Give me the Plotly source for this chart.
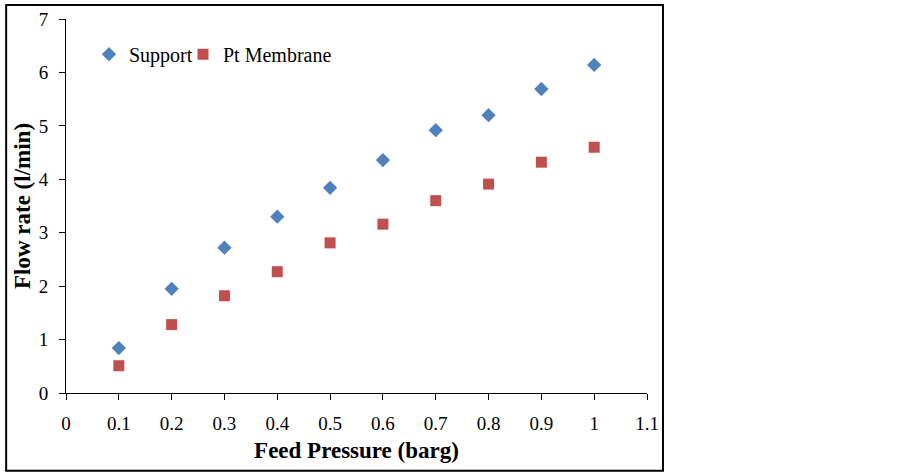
import plotly.graph_objects as go

pressure = [0.1, 0.2, 0.3, 0.4, 0.5, 0.6, 0.7, 0.8, 0.9, 1.0]
support = [0.84, 1.95, 2.72, 3.30, 3.84, 4.36, 4.92, 5.20, 5.69, 6.14]
pt_membrane = [0.51, 1.28, 1.82, 2.27, 2.81, 3.16, 3.60, 3.91, 4.32, 4.60]
x_ticks = [0, 0.1, 0.2, 0.3, 0.4, 0.5, 0.6, 0.7, 0.8, 0.9, 1.0, 1.1]
x_tick_labels = ["0", "0.1", "0.2", "0.3", "0.4", "0.5", "0.6", "0.7", "0.8", "0.9", "1", "1.1"]
y_ticks = [0, 1, 2, 3, 4, 5, 6, 7]

FONT = "Liberation Serif"

fig = go.Figure()
fig.add_trace(go.Scatter(x=pressure, y=support, mode="markers", name="Support",
                         marker=dict(symbol="diamond", size=11, color="#4F81BD"),
                         legend="legend"))
fig.add_trace(go.Scatter(x=pressure, y=pt_membrane, mode="markers", name="Pt Membrane",
                         marker=dict(symbol="square", size=11, color="#C0504D"),
                         legend="legend2"))

leg_common = dict(orientation="h", xanchor="left", yanchor="middle",
                  bgcolor="rgba(0,0,0,0)", font=dict(family=FONT, size=20),
                  itemwidth=30)

fig.update_layout(
    width=902, height=472,
    margin=dict(l=66, r=255, t=19, b=79),
    paper_bgcolor="white", plot_bgcolor="white",
    font=dict(family=FONT, size=19, color="black"),
    showlegend=True,
    legend=dict(x=(89 - 66) / 581, y=0.906, **leg_common),
    legend2=dict(x=(183 - 66) / 581, y=0.906, **leg_common),
    xaxis=dict(range=[0, 1.1], tickvals=x_ticks, ticktext=x_tick_labels,
               showline=True, linecolor="black", linewidth=1,
               ticks="outside", ticklen=6, tickcolor="black",
               showgrid=False, zeroline=False, automargin=False,
               ticklabelstandoff=7,
               tickfont=dict(family=FONT, size=19),
               title=dict(text="<b>Feed Pressure (barg)</b>", font=dict(family=FONT, size=23), standoff=9)),
    yaxis=dict(range=[0, 7], tickvals=y_ticks,
               showline=True, linecolor="black", linewidth=1,
               ticks="outside", ticklen=6, tickcolor="black",
               showgrid=False, zeroline=False, automargin=False,
               ticklabelstandoff=7,
               tickfont=dict(family=FONT, size=19),
               title=dict(text="<b>Flow rate (l/min)</b>", font=dict(family=FONT, size=23), standoff=1)),
    shapes=[dict(type="rect", xref="paper", yref="paper",
                 x0=-0.103, x1=1.0275, y0=-0.2076, y1=1.0375,
                 line=dict(color="black", width=2), fillcolor="rgba(0,0,0,0)", layer="below")],
)

fig.write_html("out.html", config={"displayModeBar": False},
               post_script="document.body.style.margin='0';")
